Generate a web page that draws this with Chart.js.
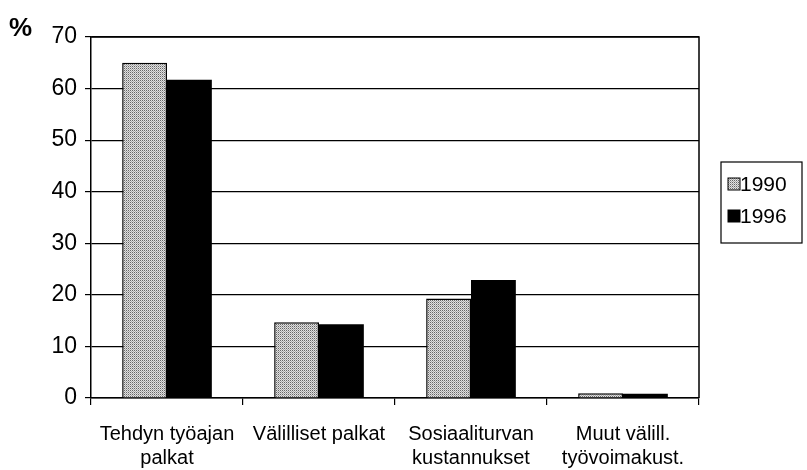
<!DOCTYPE html>
<html>
<head>
<meta charset="utf-8">
<script src="https://cdn.jsdelivr.net/npm/chart.js@4/dist/chart.umd.min.js"></script>
<style>
  html, body { margin: 0; padding: 0; background: #fff; }
  #wrap { position: relative; width: 807px; height: 470px; }
  #pct { position: absolute; left: 9px; top: 12px; font: bold 26px 'Liberation Sans', sans-serif; }
</style>
</head>
<body>
<div id="wrap">
  <div id="pct">%</div>
  <canvas id="costChart" width="807" height="470"></canvas>
</div>
<script>
const categories = [
  ['Tehdyn työajan', 'palkat'],
  ['Välilliset palkat'],
  ['Sosiaaliturvan', 'kustannukset'],
  ['Muut välill.', 'työvoimakust.'],
];
const values1990 = [65.0, 14.7, 19.3, 0.9];
const values1996 = [61.7, 14.3, 22.9, 0.8];
const yTicks = [0, 10, 20, 30, 40, 50, 60, 70];

const FONT = "'Liberation Sans', sans-serif";

// stippled grey fill like the printed halftone
const makeDots = () => {
  const c = document.createElement('canvas');
  c.width = 2; c.height = 2;
  const g = c.getContext('2d');
  g.fillStyle = '#e0e0e0';
  g.fillRect(0, 0, 2, 2);
  g.fillStyle = '#666';
  g.fillRect(0, 0, 1, 1);
  g.fillStyle = '#aaa';
  g.fillRect(1, 1, 1, 1);
  return g.createPattern(c, 'repeat');
};
const dots = makeDots();

const frameAndLegend = {
  id: 'frameAndLegend',
  afterDraw(chart) {
    const { ctx, chartArea: a } = chart;
    ctx.save();
    ctx.strokeStyle = '#000';
    ctx.lineWidth = 1.5;
    ctx.beginPath();
    ctx.moveTo(a.left, a.top);
    ctx.lineTo(a.right, a.top);
    ctx.lineTo(a.right, a.bottom);
    ctx.stroke();

    // legend box
    ctx.lineWidth = 1.2;
    ctx.strokeRect(721, 162, 81, 81);
    ctx.font = '21px ' + FONT;
    ctx.textBaseline = 'middle';
    chart.data.datasets.forEach((ds, i) => {
      const y = 184 + i * 32;
      ctx.fillStyle = ds.backgroundColor;
      ctx.fillRect(728, y - 6, 12, 12);
      ctx.lineWidth = 1;
      ctx.strokeRect(728, y - 6, 12, 12);
      ctx.fillStyle = '#000';
      ctx.fillText(ds.label, 740, y + 1);
    });
    ctx.restore();
  },
};

new Chart(document.getElementById('costChart'), {
  type: 'bar',
  data: {
    labels: categories,
    datasets: [
      {
        label: '1990',
        data: values1990,
        backgroundColor: dots,
        borderColor: '#000',
        borderWidth: 1.5,
      },
      {
        label: '1996',
        data: values1996,
        backgroundColor: '#000',
        borderColor: '#000',
        borderWidth: 0,
      },
    ],
  },
  options: {
    responsive: false,
    animation: false,
    layout: { padding: { top: 37, right: 108, left: 0, bottom: 0 } },
    datasets: {
      bar: { categoryPercentage: 0.59, barPercentage: 1.0 },
    },
    plugins: {
      legend: { display: false },
      tooltip: { enabled: false },
    },
    scales: {
      x: {
        afterFit: (s) => { s.height = 72; },
        border: { color: '#000', width: 1.5 },
        grid: { offset: true, drawOnChartArea: false, color: '#000', tickLength: 7, lineWidth: 1.2 },
        ticks: { color: '#000', font: { family: FONT, size: 20, lineHeight: 1.2 }, padding: 17, maxRotation: 0 },
      },
      y: {
        min: 0,
        max: 70,
        afterFit: (s) => { s.width = 91; },
        afterBuildTicks: (s) => { s.ticks = yTicks.map((v) => ({ value: v })); },
        border: { color: '#000', width: 1.5 },
        grid: { color: '#000', lineWidth: 1.2, tickLength: 6 },
        ticks: { color: '#000', font: { family: FONT, size: 23 }, padding: 8 },
      },
    },
  },
  plugins: [frameAndLegend],
});
</script>
</body>
</html>
